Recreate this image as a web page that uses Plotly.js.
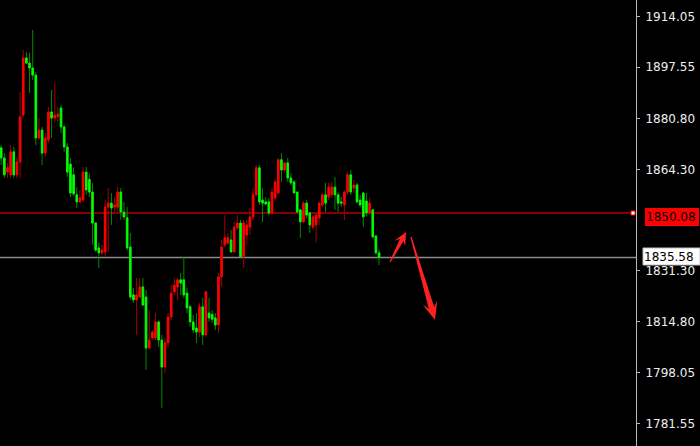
<!DOCTYPE html>
<html>
<head>
<meta charset="utf-8">
<script src="https://cdn.plot.ly/plotly-3.0.1.min.js"></script>
<style>html,body{margin:0;padding:0;background:#000;}#chart{width:700px;height:446px;}</style>
</head>
<body>
<div id="chart"></div>
<script>
// ---- data ----
var openP = [1871.3,1868.0,1863.4,1862.5,1870.0,1862.5,1866.7,1882.0,1900.6,1898.9,1897.3,1895.0,1874.5,1877.1,1869.6,1873.9,1883.0,1881.0,1881.5,1884.3,1878.1,
1871.6,1866.0,1862.5,1856.0,1853.7,1854.3,1863.4,1861.0,1856.9,1846.8,1838.7,1837.1,1837.4,1852.0,1853.3,1852.0,1852.0,1856.9,1850.4,1848.5,1839.0,
1823.4,1821.8,1822.7,1826.0,1822.7,1806.1,1809.4,1809.4,1814.6,1808.7,1799.9,1807.8,1816.2,1824.4,1826.0,1828.3,1828.3,1824.0,1819.5,1814.6,1812.6,1811.3,1819.5,1810.4,1817.5,1817.0,1815.9,1813.6,1829.3,1839.7,1840.3,1841.3,1837.4,1845.2,1846.8,1835.8,1842.9,1845.5,
1848.8,1856.0,1864.8,1854.3,1853.7,1853.7,1850.1,1855.0,1856.6,1867.4,1864.1,1866.4,1861.5,1860.2,1856.9,1851.1,1847.2,1853.3,1850.1,1845.5,1846.2,1848.5,1852.7,1856.0,1855.3,1856.0,1858.5,1856.0,1853.7,1852.7,1856.9,1862.5,1858.2,1859.2,1854.3,1856.6,1854.0,1850.1,1851.1,1842.6,1837.1];
var highP = [1872.2,1869.6,1866.4,1872.2,1871.6,1868.3,1889.5,1903.2,1902.5,1902.2,1909.7,1896.0,1881.0,1878.1,1876.1,1884.6,1890.1,1892.4,1884.6,1885.3,1878.8,
1872.9,1868.0,1865.0,1858.5,1857.6,1865.1,1865.1,1863.0,1859.9,1847.2,1840.3,1839.7,1854.3,1858.2,1856.6,1855.3,1858.5,1858.2,1853.7,1852.0,1843.6,
1825.7,1828.9,1828.9,1828.9,1825.0,1818.5,1812.0,1817.5,1815.0,1810.4,1809.4,1817.5,1826.6,1828.9,1828.9,1830.5,1835.8,1825.7,1820.1,1816.8,1817.5,1820.8,1822.4,1824.6,1822.4,1818.5,1817.5,1830.6,1841.3,1849.4,1843.6,1844.6,1847.2,1849.4,1847.8,1847.8,1847.8,1851.7,
1858.2,1865.7,1865.7,1858.2,1855.3,1855.0,1858.2,1860.8,1868.0,1869.6,1866.7,1868.0,1863.1,1860.8,1856.9,1851.1,1854.0,1854.3,1850.4,1849.4,1850.1,1853.7,1856.6,1859.9,1859.9,1860.2,1861.8,1856.9,1855.3,1857.6,1863.4,1864.1,1860.8,1859.9,1856.0,1856.9,1856.6,1855.0,1851.1,1842.9,1838.0];
var lowP = [1865.7,1861.5,1861.5,1861.5,1861.5,1861.5,1861.5,1881.4,1898.6,1889.2,1893.4,1872.2,1873.9,1865.7,1868.3,1872.9,1874.5,1879.4,1879.7,1876.1,1870.0,
1861.8,1855.3,1855.6,1851.7,1853.3,1853.7,1856.0,1855.3,1839.7,1837.4,1832.2,1836.4,1835.8,1837.4,1846.2,1850.4,1850.4,1847.8,1847.8,1838.0,1821.8,
1820.8,1810.4,1822.4,1819.8,1799.0,1805.5,1808.7,1808.7,1806.5,1786.6,1798.0,1806.1,1815.2,1823.4,1821.8,1823.4,1822.4,1817.5,1813.0,1811.0,1807.8,1809.7,1807.1,1809.7,1814.6,1814.3,1812.0,1811.0,1826.0,1839.0,1839.7,1837.1,1837.1,1844.6,1835.8,1832.2,1839.7,1842.9,
1847.8,1855.3,1852.7,1847.2,1852.7,1849.4,1849.4,1854.3,1856.0,1860.2,1863.4,1860.2,1859.2,1856.6,1850.1,1842.0,1846.8,1848.5,1843.6,1844.6,1840.6,1846.2,1852.0,1850.4,1854.3,1855.0,1851.1,1850.4,1852.0,1847.8,1856.0,1856.0,1856.6,1853.3,1852.0,1845.5,1849.0,1849.4,1842.0,1836.4,1833.1];
var closeP = [1868.0,1862.5,1864.8,1870.0,1862.5,1866.7,1881.4,1900.6,1898.9,1897.3,1895.0,1874.5,1877.1,1869.6,1874.5,1883.0,1881.0,1882.0,1882.3,1878.1,1871.6,
1863.4,1856.6,1856.3,1853.7,1855.0,1863.4,1857.6,1856.9,1846.8,1838.0,1837.1,1838.0,1852.0,1853.3,1851.7,1852.7,1856.9,1850.4,1848.8,1838.7,1822.7,
1821.8,1823.4,1826.0,1820.1,1806.1,1808.7,1811.3,1814.6,1808.7,1799.9,1807.8,1816.2,1824.0,1826.6,1828.3,1827.3,1823.4,1819.2,1814.6,1812.0,1811.3,1819.5,1810.4,1824.4,1815.9,1815.5,1813.6,1829.3,1839.0,1842.0,1842.0,1837.4,1845.5,1846.8,1835.8,1846.8,1846.2,1848.8,
1856.0,1864.8,1853.7,1853.3,1853.0,1850.1,1856.9,1860.2,1867.4,1864.1,1866.4,1861.5,1859.9,1856.6,1850.4,1847.2,1853.3,1849.4,1846.2,1848.8,1849.4,1853.3,1856.0,1853.3,1858.5,1858.5,1856.0,1853.3,1853.3,1856.9,1862.5,1856.9,1859.2,1853.7,1852.7,1848.8,1850.1,1853.3,1842.3,1837.1,1835.58];

var tickVals = [1914.05, 1897.55, 1880.80, 1864.30, 1831.30, 1814.80, 1798.05, 1781.55];
var tickLabels = ['1914.05','1897.55','1880.80','1864.30','1831.30','1814.80','1798.05','1781.55'];
var resistLevel = 1850.08, resistLabel = '1850.08';
var lastPrice = 1835.58, lastLabel = '1835.58';

// ---- build ----
var bars = openP.map(function(_, i){ return i; });
var bodyHi = openP.map(function(o, i){ return Math.max(o, closeP[i]); });
var bodyLo = openP.map(function(o, i){ return Math.min(o, closeP[i]); });

var UP = '#ff0000', UPW = '#a00000', DN = '#00ff00', DNW = '#008a00';

var wicks = {
  type: 'candlestick', x: bars, open: openP, high: highP, low: lowP, close: closeP,
  increasing: {line: {color: UPW, width: 1}, fillcolor: UPW},
  decreasing: {line: {color: DNW, width: 1}, fillcolor: DNW},
  hoverinfo: 'skip', showlegend: false
};
var bodies = {
  type: 'candlestick', x: bars, open: openP, high: bodyHi, low: bodyLo, close: closeP,
  increasing: {line: {color: UP, width: 0.8}, fillcolor: UP},
  decreasing: {line: {color: DN, width: 0.8}, fillcolor: DN},
  hoverinfo: 'skip', showlegend: false
};

var W = 636, H = 446;
function px(x){ return x / W; }
function py(y){ return 1 - y / H; }
function arrowPath(t, p, hl, hw, w0, w1){
  var dx = p[0]-t[0], dy = p[1]-t[1], L = Math.sqrt(dx*dx+dy*dy);
  var ux = dx/L, uy = dy/L, nx = -uy, ny = ux;
  var bx = p[0]-ux*hl, by = p[1]-uy*hl;
  var cx = p[0]-ux*hl*0.7, cy = p[1]-uy*hl*0.7;
  var pts = [
    [t[0]+nx*w0, t[1]+ny*w0], [cx+nx*w1, cy+ny*w1], [bx+nx*hw, by+ny*hw], p,
    [bx-nx*hw, by-ny*hw], [cx-nx*w1, cy-ny*w1], [t[0]-nx*w0, t[1]-ny*w0]
  ];
  return pts.map(function(q, i){ return (i ? 'L' : 'M') + px(q[0]).toFixed(5) + ',' + py(q[1]).toFixed(5); }).join(' ') + ' Z';
}

var shapes = [
  {type:'line', xref:'paper', x0:0, x1:1, yref:'y', y0:resistLevel, y1:resistLevel, line:{color:'#b00000', width:1.3}, layer:'below'},
  {type:'line', xref:'paper', x0:0, x1:1, yref:'y', y0:lastPrice, y1:lastPrice, line:{color:'#8a8a8a', width:1.6}, layer:'below'},
  {type:'path', xref:'paper', yref:'paper', path: arrowPath([390,262],[406,232],13,6,0.6,2), fillcolor:'#ff2020', line:{width:0}},
  {type:'path', xref:'paper', yref:'paper', path: arrowPath([411,237],[435,320],18,7.5,0.6,2.8), fillcolor:'#ff2020', line:{width:0}},
  {type:'rect', xref:'paper', yref:'paper', x0:px(645), x1:px(699), y0:py(226), y1:py(208), fillcolor:'#ff0000', line:{width:0}},
  {type:'rect', xref:'paper', yref:'paper', x0:px(643), x1:px(700), y0:py(265), y1:py(248), fillcolor:'#ffffff', line:{color:'#c0c0c0', width:1}},
  {type:'rect', xref:'paper', yref:'paper', x0:px(631), x1:px(635), y0:py(215), y1:py(211), fillcolor:'#ffffff', line:{color:'#ff0000', width:1}}
];

var annotations = [
  {xref:'paper', yref:'paper', x:px(644), y:py(217), xanchor:'left', yanchor:'middle', text:resistLabel, showarrow:false,
   font:{family:'DejaVu Sans', size:12, color:'#000000'}},
  {xref:'paper', yref:'paper', x:px(642), y:py(256.5), xanchor:'left', yanchor:'middle', text:lastLabel, showarrow:false,
   font:{family:'DejaVu Sans', size:12, color:'#000000'}}
];

var layout = {
  width: 700, height: 446,
  margin: {l: 0, r: 64, t: 0, b: 0, pad: 0},
  paper_bgcolor: '#000000', plot_bgcolor: '#000000',
  showlegend: false, hovermode: false, dragmode: false,
  xaxis: {range: [-0.38, 201.6], visible: false, rangeslider: {visible: false}, fixedrange: true},
  yaxis: {
    side: 'right', range: [1774.18, 1919.46], showgrid: false, zeroline: false,
    showline: true, linecolor: '#b8b8b8', linewidth: 1,
    ticks: 'outside', ticklen: 3, tickcolor: '#b8b8b8', tickwidth: 1,
    tickvals: tickVals, ticktext: tickLabels, ticklabelstandoff: 3,
    tickfont: {family: 'DejaVu Sans', size: 12, color: '#eeeeee'}, fixedrange: true
  },
  shapes: shapes, annotations: annotations
};

Plotly.newPlot('chart', [wicks, bodies], layout, {displayModeBar: false, staticPlot: true});
</script>
</body>
</html>
